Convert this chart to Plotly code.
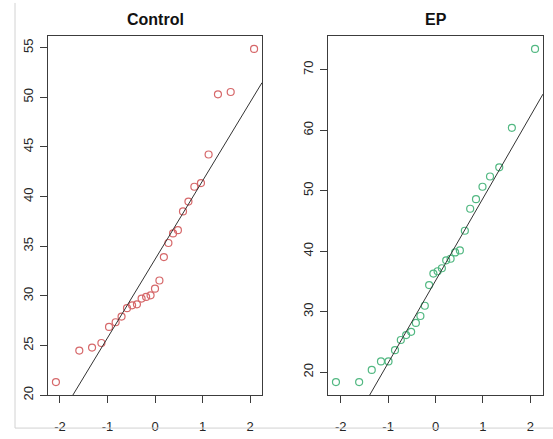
import numpy as np
import plotly.graph_objects as go
from statistics import NormalDist

# Sample values for each group (sorted)
control_values = [21.32, 24.50, 24.80, 25.26, 26.88, 27.35, 27.92, 28.77, 29.05,
                  29.15, 29.73, 29.90, 30.06, 30.73, 31.55, 33.91, 35.33, 36.29,
                  36.62, 38.51, 39.50, 40.99, 41.36, 44.24, 50.30, 50.53, 54.87]
ep_values = [18.37, 18.37, 20.39, 21.79, 21.79, 23.65, 25.33, 26.15, 26.68,
             28.15, 29.29, 30.99, 34.41, 36.30, 36.69, 37.18, 38.49, 38.75,
             39.79, 40.12, 43.38, 47.01, 48.59, 50.65, 52.34, 53.86, 60.38, 73.42]

panel_titles = ["Control", "EP"]
panel_colors = ["#D6686A", "#52B882"]
x_ticks = [-2, -1, 0, 1, 2]
x_tick_labels = ["-2", "-1", "0", "1", "2"]
control_y_ticks = [20, 25, 30, 35, 40, 45, 50, 55]
ep_y_ticks = [20, 30, 40, 50, 60, 70]

W, H = 553, 439
FONT = "Liberation Sans, Arial, Helvetica, sans-serif"


def ppoints(n):
    a = 3 / 8 if n <= 10 else 0.5
    return [(i - a) / (n + 1 - 2 * a) for i in range(1, n + 1)]


def normal_scores(values):
    nd = NormalDist()
    return np.array([nd.inv_cdf(p) for p in ppoints(len(values))])


def padded(lo, hi, frac=0.04):
    d = (hi - lo) * frac
    return [lo - d, hi + d]


def qq_line(values):
    y = np.sort(np.asarray(values, dtype=float))
    q1, q3 = np.percentile(y, [25, 75])
    nd = NormalDist()
    t1, t3 = nd.inv_cdf(0.25), nd.inv_cdf(0.75)
    slope = (q3 - q1) / (t3 - t1)
    intercept = q1 - slope * t1
    return slope, intercept


fig = go.Figure()

x_domains = [[48 / W, 262 / W], [328 / W, 543 / W]]
y_domain = [(H - 400) / H, (H - 36) / H]
datasets = [control_values, ep_values]
y_tick_sets = [control_y_ticks, ep_y_ticks]

for k, (vals, color) in enumerate(zip(datasets, panel_colors)):
    xs = normal_scores(vals)
    ys = np.sort(np.asarray(vals, dtype=float))
    xr = padded(xs.min(), xs.max())
    yr = padded(ys.min(), ys.max())
    suffix = "" if k == 0 else str(k + 1)

    fig.add_trace(go.Scatter(
        x=xs, y=ys, mode="markers",
        marker=dict(symbol="circle-open", size=7, color=color,
                    line=dict(width=1.2, color=color)),
        xaxis="x" + suffix, yaxis="y" + suffix, showlegend=False,
        cliponaxis=False,
    ))

    slope, intercept = qq_line(vals)
    lx = np.array(xr)
    fig.add_trace(go.Scatter(
        x=lx, y=intercept + slope * lx, mode="lines",
        line=dict(color="#333333", width=1),
        xaxis="x" + suffix, yaxis="y" + suffix, showlegend=False,
    ))

    axis_common = dict(
        showline=True, linecolor="#3c3c3c", linewidth=1, mirror=True,
        ticks="outside", ticklen=7, tickwidth=1, tickcolor="#3c3c3c",
        showgrid=False, zeroline=False,
        tickfont=dict(family=FONT, size=13, color="#262626"),
    )
    fig.layout["xaxis" + suffix] = dict(
        axis_common, domain=x_domains[k], range=xr, tickvals=x_ticks,
        ticktext=x_tick_labels, anchor="y" + suffix, ticklabelstandoff=12,
    )
    fig.layout["yaxis" + suffix] = dict(
        axis_common, domain=y_domain, range=yr, tickvals=y_tick_sets[k],
        anchor="x" + suffix, tickangle=-90, ticklabelstandoff=2,
    )

    fig.add_annotation(
        text="<b>" + panel_titles[k] + "</b>", xref="paper", yref="paper",
        x=sum(x_domains[k]) / 2, y=1 - 20 / H, xanchor="center", yanchor="middle",
        showarrow=False, font=dict(family=FONT, size=16, color="#111111"),
    )

# light frame at the left and bottom edges
fig.add_shape(type="line", xref="paper", yref="paper",
              x0=15 / W, x1=15 / W, y0=1 - 3 / H, y1=1 - 433 / H,
              line=dict(color="#d2d2d2", width=1))
fig.add_shape(type="line", xref="paper", yref="paper",
              x0=15 / W, x1=1, y0=1 - 433 / H, y1=1 - 433 / H,
              line=dict(color="#d2d2d2", width=1))

fig.update_layout(
    width=W, height=H, margin=dict(l=0, r=0, t=0, b=0),
    paper_bgcolor="white", plot_bgcolor="white",
    font=dict(family=FONT),
)

fig.write_html("out.html")
